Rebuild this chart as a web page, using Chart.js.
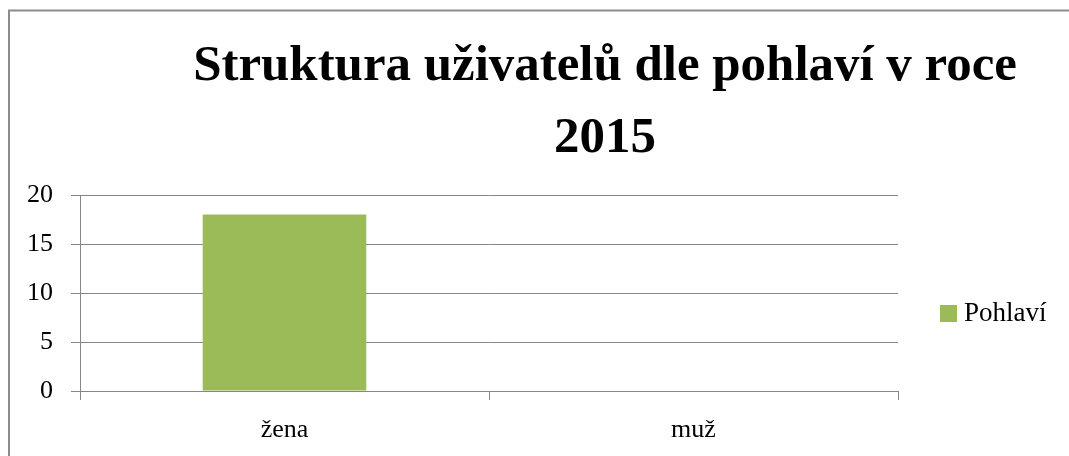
<!DOCTYPE html>
<html>
<head>
<meta charset="utf-8">
<script src="https://cdn.jsdelivr.net/npm/chart.js@4"></script>
<style>
html, body { margin: 0; padding: 0; background: #fff; }
#wrap { width: 1069px; height: 456px; position: relative; }
</style>
</head>
<body>
<div id="wrap"><canvas id="chart" width="1069" height="456"></canvas></div>
<script>
// data
const categories = ['žena', 'muž'];
const values = [18, 0];
const seriesName = 'Pohlaví';
const yTicks = [0, 5, 10, 15, 20];
const titleLines = ['Struktura uživatelů dle pohlaví v roce', '2015'];

const serif = '"Liberation Serif", "DejaVu Serif", serif';
const axisGrey = '#868686';
const barGreen = '#9BBB59';

// outer frame, title and legend drawn on the canvas
const decor = {
  id: 'decor',
  beforeDraw(chart) {
    const c = chart.ctx;
    c.save();
    c.strokeStyle = '#8c8c8c';
    c.lineWidth = 2;
    c.beginPath();
    c.moveTo(9, 456);
    c.lineTo(9, 10.5);
    c.lineTo(1069, 10.5);
    c.stroke();
    c.restore();
  },
  afterDraw(chart) {
    const c = chart.ctx;
    c.save();
    // title: fit the first line to the width seen in the picture
    let size = 40;
    c.font = 'bold ' + size + 'px ' + serif;
    size = size * 824 / c.measureText(titleLines[0]).width;
    c.font = 'bold ' + size + 'px ' + serif;
    c.fillStyle = '#000';
    c.textAlign = 'center';
    c.textBaseline = 'alphabetic';
    c.fillText(titleLines[0], 605, 80);
    c.fillText(titleLines[1], 605, 152);
    // legend
    const ds = chart.data.datasets[0];
    c.fillStyle = ds.backgroundColor;
    c.fillRect(940, 305, 17, 17);
    c.fillStyle = '#000';
    c.textAlign = 'left';
    c.textBaseline = 'middle';
    c.font = '27px ' + serif;
    c.fillText(ds.label, 964, 314);
    c.restore();
  }
};

new Chart(document.getElementById('chart'), {
  type: 'bar',
  data: {
    labels: categories,
    datasets: [{
      label: seriesName,
      data: values,
      backgroundColor: barGreen,
      borderWidth: 0,
      categoryPercentage: 1,
      barPercentage: 0.4
    }]
  },
  options: {
    responsive: false,
    animation: false,
    layout: { padding: { left: 8, right: 171, top: 195, bottom: 0 } },
    plugins: {
      legend: { display: false },
      title: { display: false },
      tooltip: { enabled: false }
    },
    scales: {
      x: {
        offset: true,
        grid: {
          offset: true,
          drawOnChartArea: false,
          drawTicks: true,
          tickLength: 9,
          color: axisGrey,
          lineWidth: 1
        },
        border: { color: axisGrey, width: 1 },
        ticks: { color: '#000', font: { family: serif, size: 26 }, padding: 15 },
        afterFit: s => { s.height = 65; }
      },
      y: {
        min: 0,
        max: 20,
        afterBuildTicks: s => { s.ticks = yTicks.map(v => ({ value: v })); },
        grid: { color: axisGrey, lineWidth: 1, tickLength: 9 },
        border: { color: axisGrey, width: 1 },
        ticks: { color: '#000', font: { family: serif, size: 26 }, padding: 18 },
        afterFit: s => { s.width = 72; }
      }
    }
  },
  plugins: [decor]
});
</script>
</body>
</html>
